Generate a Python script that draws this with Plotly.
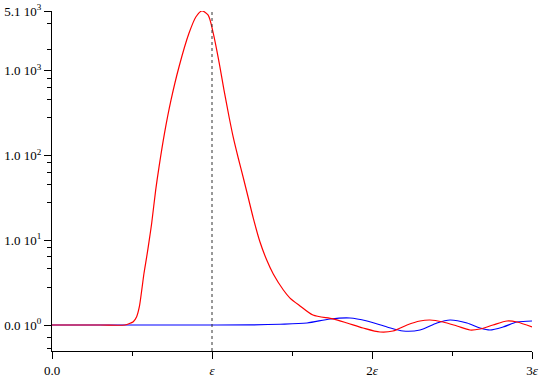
import plotly.graph_objects as go

# x in units of epsilon, y on a log scale
red_x = [0, 0.3, 0.456, 0.4875, 0.508, 0.529, 0.546, 0.561, 0.575, 0.592,
         0.608, 0.623, 0.648, 0.669, 0.703, 0.744, 0.794, 0.856, 0.9, 0.936,
         0.975, 1.008, 1.044, 1.075, 1.108, 1.133, 1.164, 1.196, 1.227, 1.258,
         1.3, 1.342, 1.383, 1.446, 1.4875, 1.55, 1.631, 1.756, 1.844, 1.944,
         2.05, 2.131, 2.219, 2.3, 2.3625, 2.444, 2.531, 2.6125, 2.675, 2.756,
         2.844, 2.906, 3.0]
red_y = [1, 1, 1, 1.047, 1.094, 1.253, 1.644, 2.59, 4.08, 6.41,
         10.1, 15.9, 39.2, 73.8, 183, 454, 1121, 2780, 4365, 5100,
         4585, 2780, 1274, 595, 278, 164, 93.7, 54.4, 31.6, 18.3,
         9.55, 5.85, 4.0, 2.59, 2.08, 1.68, 1.31, 1.18, 1.056, 0.922,
         0.827, 0.849, 1.0, 1.115, 1.146, 1.085, 0.973, 0.873, 0.897, 1.0,
         1.115, 1.085, 0.947]

blue_x = [0, 0.925, 1.2375, 1.425, 1.594, 1.7375, 1.8625, 1.969, 2.094, 2.194, 2.3,
          2.406, 2.4875, 2.594, 2.675, 2.7375, 2.819, 2.906, 3.0]
blue_y = [1, 1, 1.003, 1.02, 1.056, 1.177, 1.21, 1.115, 0.947, 0.85, 0.873,
          1.056, 1.146, 1.056, 0.922, 0.873, 0.947, 1.085, 1.115]

x_ticks = [0, 1, 2, 3]
x_labels = ['0.0', '<i>ε</i>', '2<i>ε</i>', '3<i>ε</i>']
x_minor = [0.5, 1.5, 2.5]

y_ticks = [1, 10, 100, 1000, 5100]
y_labels = ['0.0 10<sup>0</sup>', '1.0 10<sup>1</sup>', '1.0 10<sup>2</sup>',
            '1.0 10<sup>3</sup>', '5.1 10<sup>3</sup>']
y_minor = [0.53, 0.72, 2.8, 4.6, 6.4, 8.2, 28, 46, 64, 82, 280, 460, 640, 820, 1800, 3600]

fig = go.Figure()
fig.add_trace(go.Scatter(x=blue_x, y=blue_y, mode='lines',
                         line=dict(color='#0000ff', width=1.2, shape='spline', smoothing=0.8)))
fig.add_trace(go.Scatter(x=red_x, y=red_y, mode='lines',
                         line=dict(color='#ff0000', width=1.2, shape='spline', smoothing=0.8)))

# dotted marker at x = epsilon
fig.add_shape(type='line', xref='x', yref='paper', x0=1, x1=1, y0=0, y1=1,
              line=dict(color='#333333', width=1, dash='dot'))

fig.update_layout(
    width=545, height=378,
    margin=dict(l=52, r=13, t=11, b=27),
    plot_bgcolor='white', paper_bgcolor='white',
    showlegend=False,
    font=dict(family='Liberation Serif', size=13, color='black'),
)
fig.update_xaxes(
    range=[0, 3], showgrid=False, zeroline=False, automargin=False,
    showline=True, linecolor='black', linewidth=1,
    tickvals=x_ticks, ticktext=x_labels,
    ticks='outside', ticklen=7, tickcolor='black',
    minor=dict(tickvals=x_minor, ticks='outside', ticklen=4, tickcolor='black'),
)
fig.update_yaxes(
    type='log', range=[-0.307, 3.7076], showgrid=False, zeroline=False, automargin=False,
    showline=True, linecolor='black', linewidth=1,
    tickvals=y_ticks, ticktext=y_labels,
    ticks='outside', ticklen=7, tickcolor='black',
    minor=dict(tickvals=y_minor, ticks='outside', ticklen=4, tickcolor='black'),
)

# drop the default 8px page margin so the figure sits at the window corner
fig.write_html("out.html", config={'displayModeBar': False},
               post_script="document.body.style.margin = '0';")
